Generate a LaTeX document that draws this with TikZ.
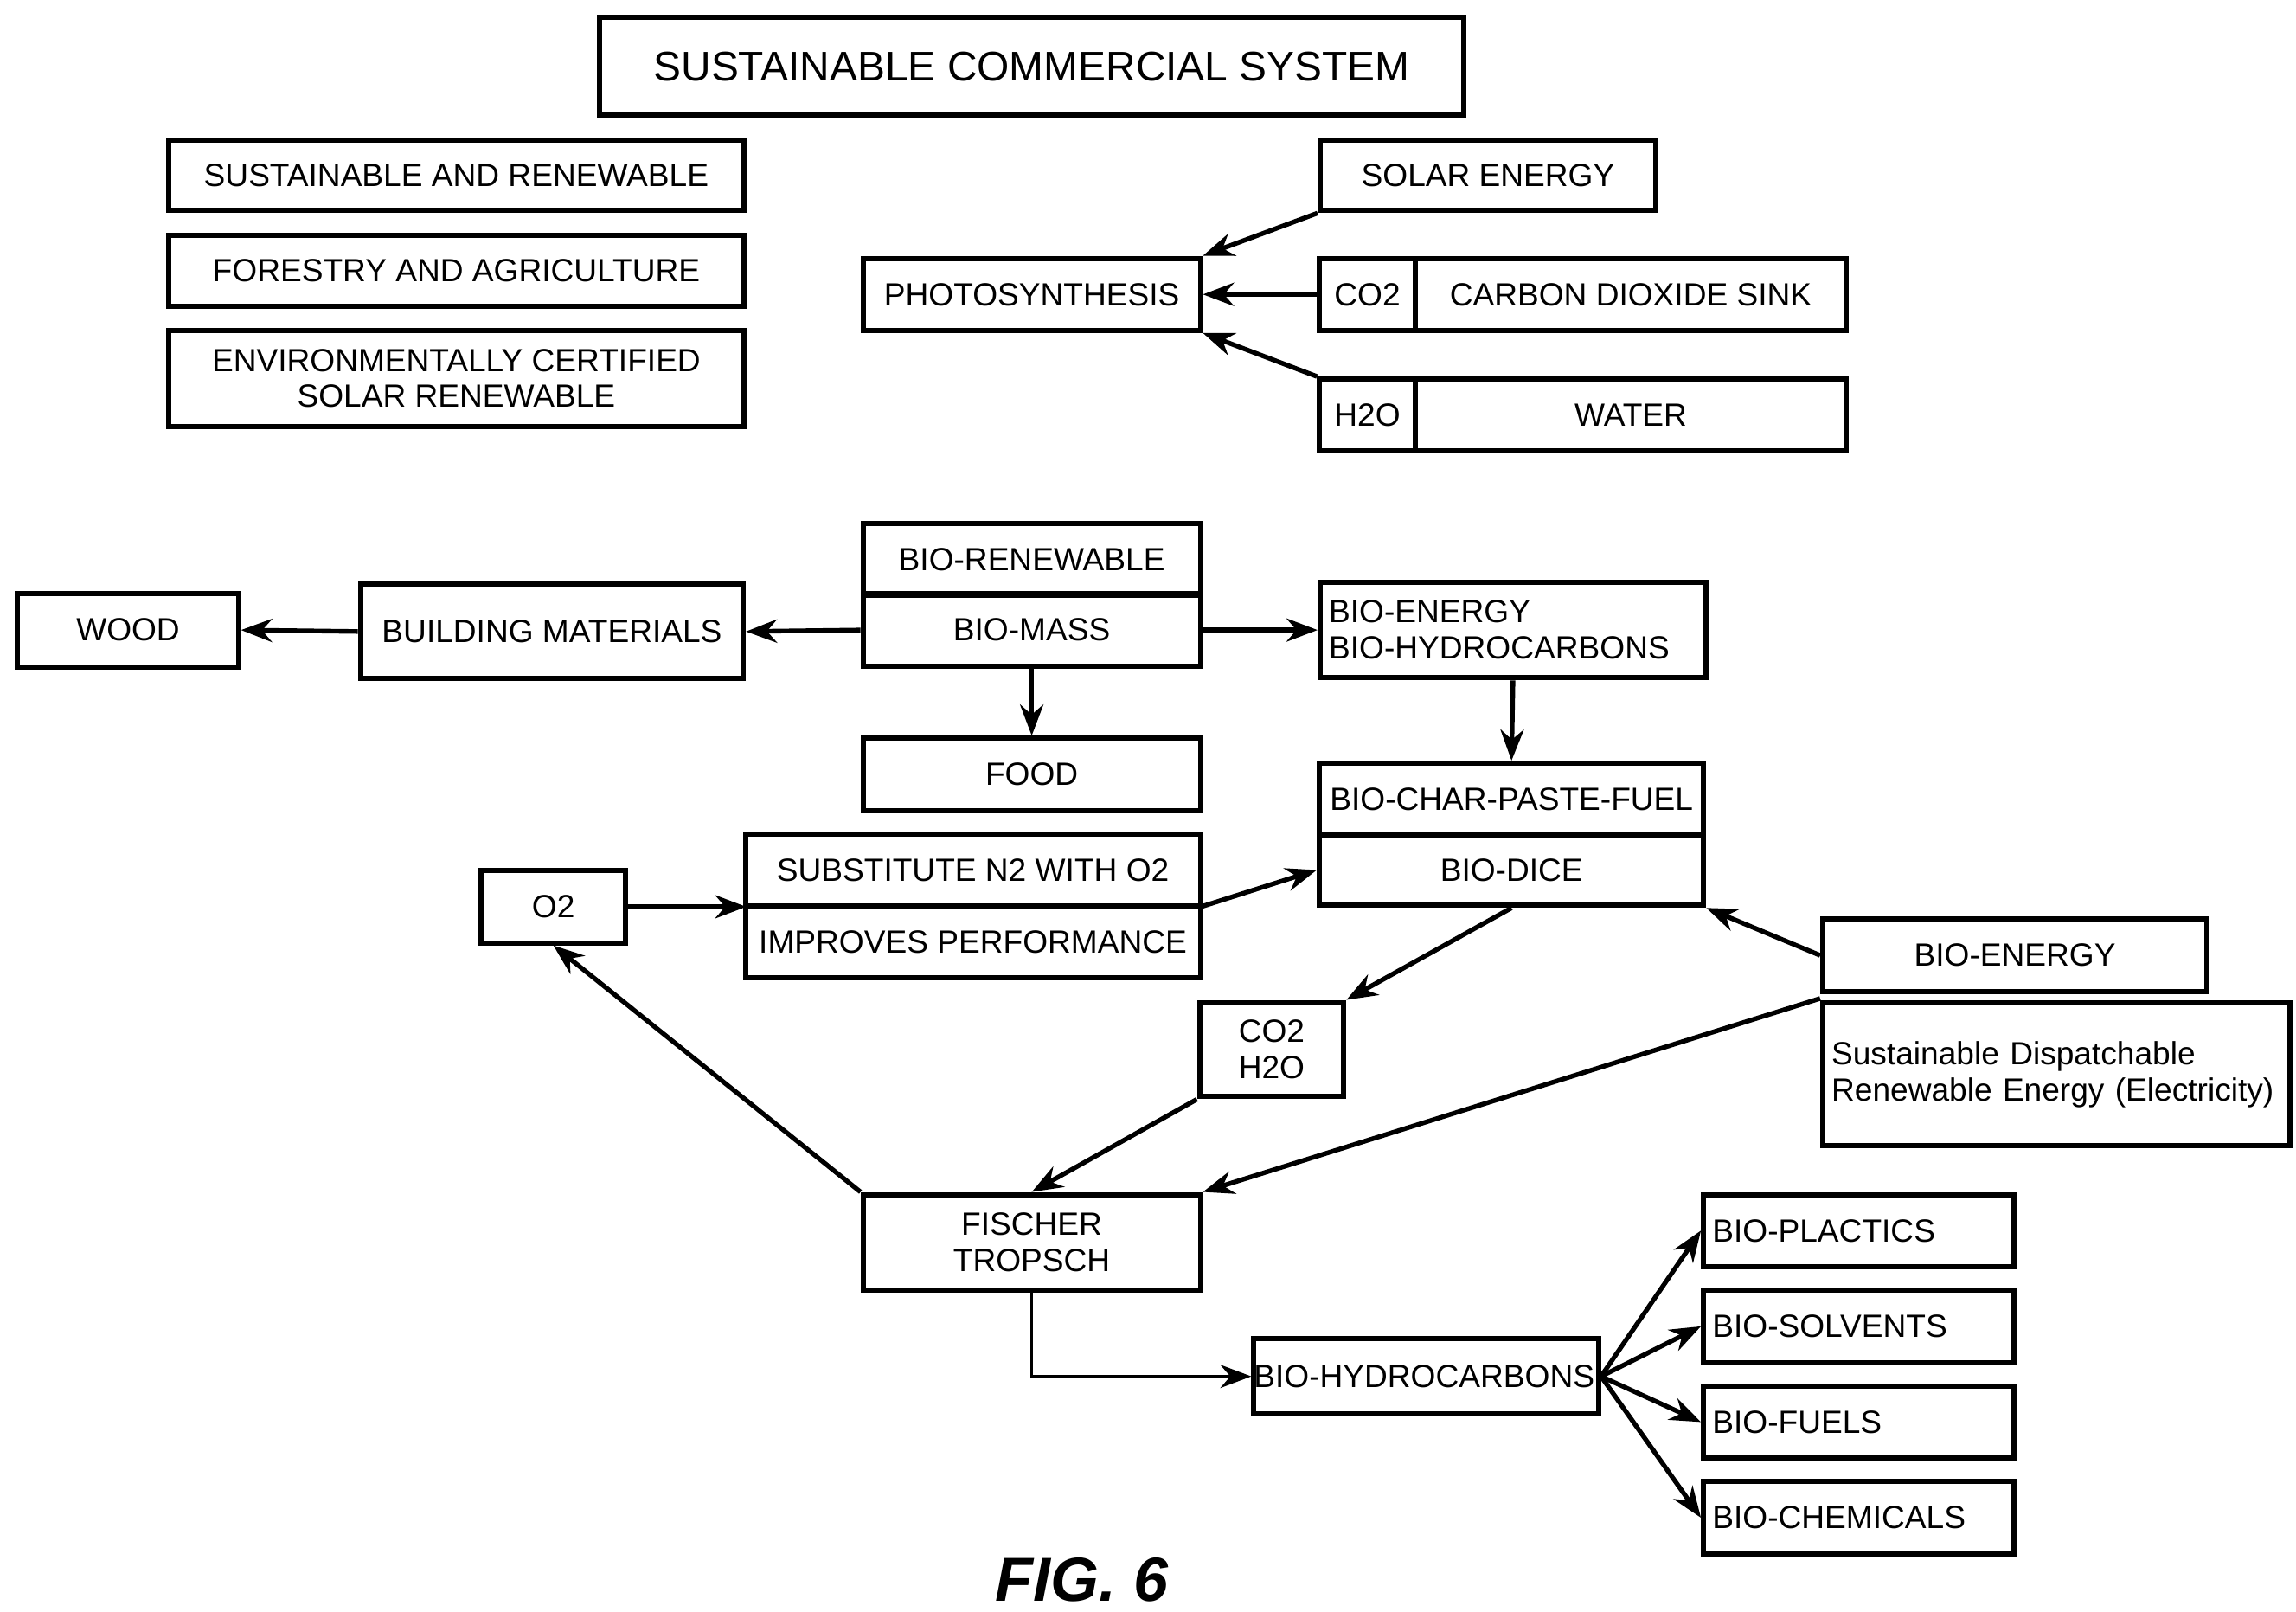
\documentclass[tikz,border=0pt]{standalone}
\usepackage{fontspec}
\setmainfont{Liberation Sans}
\usetikzlibrary{positioning,arrows.meta}
\tikzset{
    box/.style={draw, line width=1pt, rectangle, inner sep=0pt, align=center, font=\fontsize{6.2}{7}\selectfont},
    lbox/.style={box, align=left, text width=#1, inner xsep=0.06cm},
    arr/.style={line width=0.9pt, -{Stealth[length=6pt,width=4.5pt]}},
}
\begin{document}
\begin{tikzpicture}[x=0.01cm, y=-0.01cm]
    \useasboundingbox (0,0) rectangle (1560,1095);

    \node [box, minimum width=5.87cm, minimum height=0.66cm, font=\fontsize{8}{9}\selectfont] (title) at (701,45) {SUSTAINABLE COMMERCIAL SYSTEM};
    \node [box, minimum width=3.91cm, minimum height=0.48cm] (sust) at (310,119) {SUSTAINABLE AND RENEWABLE};
    \node [box, minimum width=3.91cm, minimum height=0.48cm] (forest) at (310,184) {FORESTRY AND AGRICULTURE};
    \node [box, minimum width=3.91cm, minimum height=0.65cm] (cert) at (310,257) {ENVIRONMENTALLY CERTIFIED\\SOLAR RENEWABLE};

    % photosynthesis inputs
    \node [box, minimum width=2.28cm, minimum height=0.48cm] (solar) at (1011,119) {SOLAR ENERGY};
    \node [box, minimum width=2.29cm, minimum height=0.49cm] (photo) at (701,200) {PHOTOSYNTHESIS};
    \node [box, minimum width=0.65cm, minimum height=0.49cm] (co2) at (929,200) {CO2};
    \node [box, minimum width=2.93cm, minimum height=0.49cm] (sink) at (1108,200) {CARBON DIOXIDE SINK};
    \node [box, minimum width=0.65cm, minimum height=0.49cm] (h2o) at (929,282) {H2O};
    \node [box, minimum width=2.93cm, minimum height=0.49cm] (water) at (1108,282) {WATER};

    % biomass
    \node [box, minimum width=2.29cm, minimum height=0.49cm] (biorenew) at (701,380) {BIO-RENEWABLE};
    \node [box, minimum width=2.29cm, minimum height=0.49cm] (biomass) at (701,428) {BIO-MASS};
    \node [box, minimum width=2.60cm, minimum height=0.64cm] (build) at (375,429) {BUILDING MATERIALS};
    \node [box, minimum width=1.50cm, minimum height=0.50cm] (wood) at (87,428) {WOOD};
    \node [lbox=2.50cm, minimum height=0.65cm] (bioen) at (1028,428) {BIO-ENERGY\\BIO-HYDROCARBONS};
    \node [box, minimum width=2.29cm, minimum height=0.49cm] (food) at (701,526) {FOOD};

    % bio-dice
    \node [box, minimum width=2.61cm, minimum height=0.49cm] (biochar) at (1027,543) {BIO-CHAR-PASTE-FUEL};
    \node [box, minimum width=2.61cm, minimum height=0.48cm] (biodice) at (1027,591) {BIO-DICE};
    \node [box, minimum width=3.09cm, minimum height=0.49cm] (subst) at (661,591) {SUBSTITUTE N2 WITH O2};
    \node [box, minimum width=3.09cm, minimum height=0.48cm] (improve) at (661,640) {IMPROVES PERFORMANCE};
    \node [box, minimum width=0.98cm, minimum height=0.49cm] (o2) at (376,616) {O2};
    \node [box, minimum width=2.61cm, minimum height=0.49cm] (bioenr) at (1369,649) {BIO-ENERGY};
    \node [lbox=3.05cm, minimum height=0.97cm] (dispatch) at (1397,730) {Sustainable Dispatchable\\Renewable Energy (Electricity)};
    \node [box, minimum width=0.98cm, minimum height=0.64cm] (exhaust) at (864,713) {CO2\\H2O};
    \node [box, minimum width=2.29cm, minimum height=0.65cm] (fischer) at (701,844) {FISCHER\\TROPSCH};

    % products
    \node [lbox=2.34cm, minimum height=0.51cm, inner xsep=0pt] (biohc) at (969,935) {BIO-HYDROCARBONS};
    \node [lbox=1.99cm, minimum height=0.49cm] (plastic) at (1263,836) {BIO-PLACTICS};
    \node [lbox=1.99cm, minimum height=0.49cm] (solvent) at (1263,901) {BIO-SOLVENTS};
    \node [lbox=1.99cm, minimum height=0.49cm] (fuel) at (1263,966) {BIO-FUELS};
    \node [lbox=1.99cm, minimum height=0.49cm] (chem) at (1263,1031) {BIO-CHEMICALS};

    \node [font=\fontsize{12}{14}\selectfont\bfseries\itshape] (fig) at (735,1073) {FIG. 6};

    \coordinate (split) at (507,616);
    \coordinate (substend) at (816,616);

    \draw [arr] (solar.south west) -- (photo.north east);
    \draw [arr] (co2.west) -- (photo.east);
    \draw [arr] (h2o.north west) -- (photo.south east);
    \draw [arr] (biomass.west) -- (build.east);
    \draw [arr] (build.west) -- (wood.east);
    \draw [arr] (biomass.east) -- (bioen.west);
    \draw [arr] (biomass.south) -- (food.north);
    \draw [arr] (bioen.south) -- (biochar.north);
    \draw [arr] (o2.east) -- (split);
    \draw [arr] (substend) -- (biodice.west);
    \draw [arr] (bioenr.west) -- (biodice.south east);
    \draw [arr] (biodice.south) -- (exhaust.north east);
    \draw [arr] (exhaust.south west) -- (fischer.north);
    \draw [arr] (bioenr.south west) ++(0,3) -- (fischer.north east);
    \draw [arr] (fischer.north west) -- (o2.south);
    \draw [line width=0.5pt, -{Stealth[length=6pt,width=4.5pt]}] (fischer.south) |- (biohc.west);
    \foreach \p in {plastic, solvent, fuel, chem}
        \draw [arr] (biohc.east) -- (\p.west);
\end{tikzpicture}
\end{document}
